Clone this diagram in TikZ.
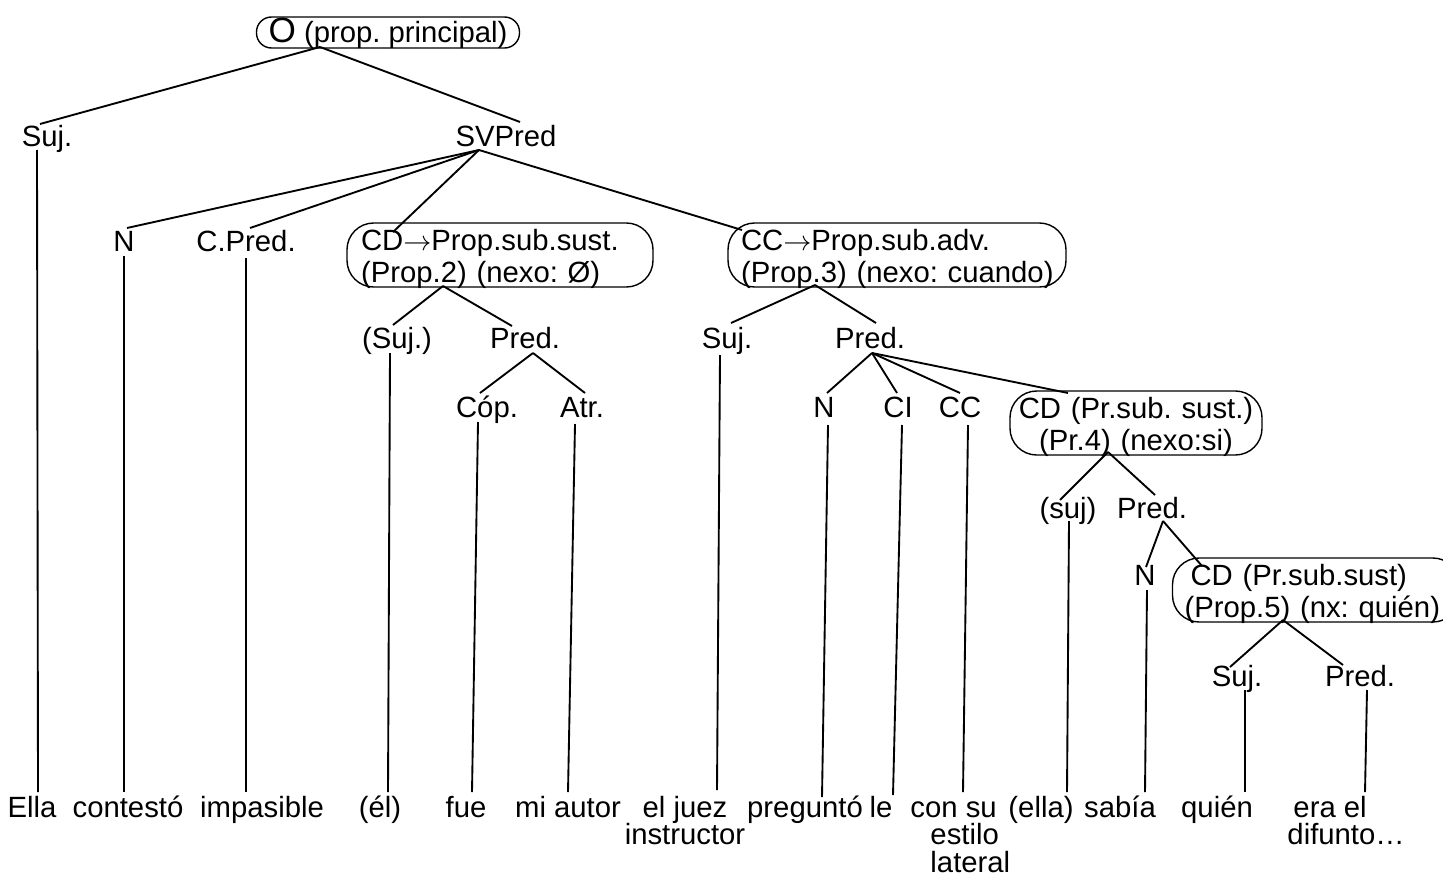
\documentclass[tikz,border=0pt]{standalone}
\usepackage{fontspec}
\setmainfont{Liberation Sans}

\begin{document}
\frenchspacing
\begin{tikzpicture}[x=0.015cm, y=-0.015cm,
  tag/.style={inner sep=0pt, anchor=base, font=\fontsize{12.5}{13.7}\selectfont},
  word/.style={tag, align=center, font=\fontsize{12.5}{11.7}\selectfont},
  pill/.style={tag, draw, line width=0.6pt, rounded corners=0.4cm, inner ysep=0pt, text height=0.405cm, text depth=0.555cm},
  branch/.style={line width=0.8pt}]

\def\wordy{817}
\path [use as bounding box] (0,0) rectangle (1443,875);

% ROOT
\node [pill, text height=0.39cm, text depth=0.075cm, inner xsep=0pt, minimum width=3.945cm, rounded corners=0.225cm] (root) at (388,43) {{\fontsize{15}{15}\selectfont O} (prop. principal)};

% LABELS
\node [tag] (sujA) at (47,146) {Suj.};
\node [tag] (svpred) at (506,146) {SVPred};
\node [tag] (nB) at (124,251) {N};
\node [tag] (cpred) at (246,251) {C.Pred.};
\node [tag] (sujB) at (397,348) {(Suj.)};
\node [tag] (predB) at (525,348) {Pred.};
\node [tag] (sujC) at (727,348) {Suj.};
\node [tag] (predC) at (870,348) {Pred.};
\node [tag] (cop) at (487,417) {Cóp.};
\node [tag] (atr) at (582,417) {Atr.};
\node [tag] (nD) at (824,417) {N};
\node [tag] (ci) at (898,417) {CI};
\node [tag] (cc) at (960,417) {CC};
\node [tag] (sujE) at (1068,518) {(suj)};
\node [tag] (predE) at (1152,518) {Pred.};
\node [tag] (nF) at (1145,585) {N};
\node [tag] (sujG) at (1237,686) {Suj.};
\node [tag] (predG) at (1360,686) {Pred.};

% BOXES
\node [pill, align=left, text width=4.17cm, inner xsep=0.21cm] (cdii) at (500,250) {\mbox{CD$\rightarrow$Prop.sub.sust.}\\\mbox{(Prop.2) (nexo: Ø)}};
\node [pill, align=left, text width=4.68cm, inner xsep=0.195cm] (ccii) at (897,250) {\mbox{CC$\rightarrow$Prop.sub.adv.}\\\mbox{(Prop.3) (nexo: cuando)}};
\node [pill, align=center, text width=3.6cm, inner xsep=0.09cm] (cdiv) at (1136,418) {\mbox{CD (Pr.sub. sust.)}\\\mbox{(Pr.4) (nexo:si)}};
\node [pill, align=left, text width=3.945cm, inner xsep=0.18cm] (cdv) at (1316,585) {\mbox{\hspace*{0.09cm}CD (Pr.sub.sust)}\\\mbox{(Prop.5) (nx: quién)}};

% WORDS
\node [word] (ella) at (32,\wordy) {Ella};
\node [word] (contesto) at (128,\wordy) {contestó};
\node [word] (impasible) at (262,\wordy) {impasible};
\node [word] (el) at (380,\wordy) {(él)};
\node [word] (fue) at (466,\wordy) {fue};
\node [word] (miautor) at (568,\wordy) {mi autor};
\node [word] (juez) at (685,844.5) {el juez\\instructor};
\node [word] (pregunto) at (805,\wordy) {preguntó};
\node [word] (le) at (881,\wordy) {le};
\node [word, align=left, anchor=base west] (consu) at (910,872) {con su\\\hspace*{0.3cm}estilo\\\hspace*{0.3cm}lateral};
\node [word] (ellaii) at (1041,\wordy) {(ella)};
\node [word] (sabia) at (1120,\wordy) {sabía};
\node [word] (quien) at (1217,\wordy) {quién};
\node [word, align=left, anchor=base west] (eradif) at (1287,844.5) {\hspace*{0.09cm}era el\\difunto…};

% BRANCHES
\draw [branch] ([shift={(-68,4)}]root.base) -- ([shift={(-7,-22)}]sujA.base);
\draw [branch] ([shift={(-68,4)}]root.base) -- ([shift={(14,-24)}]svpred.base);
\draw [branch] ([shift={(-27,4)}]svpred.base) -- ([shift={(3,-23)}]nB.base);
\draw [branch] ([shift={(-27,4)}]svpred.base) -- ([shift={(4,-23)}]cpred.base);
\draw [branch] ([shift={(-27,4)}]svpred.base) -- ([shift={(-107,-18)}]cdii.base);
\draw [branch] ([shift={(-27,4)}]svpred.base) -- ([shift={(-155,-20)}]ccii.base);
\draw [branch] ([shift={(-57,36)}]cdii.base) -- ([shift={(-4,-23)}]sujB.base);
\draw [branch] ([shift={(-57,36)}]cdii.base) -- ([shift={(-13,-22)}]predB.base);
\draw [branch] ([shift={(-82,35)}]ccii.base) -- ([shift={(4,-25)}]sujC.base);
\draw [branch] ([shift={(-82,35)}]ccii.base) -- ([shift={(6,-25)}]predC.base);
\draw [branch] ([shift={(8,5)}]predB.base) -- ([shift={(-7,-24)}]cop.base);
\draw [branch] ([shift={(8,5)}]predB.base) -- ([shift={(3,-24)}]atr.base);
\draw [branch] ([shift={(2,5)}]predC.base) -- ([shift={(3,-24)}]nD.base);
\draw [branch] ([shift={(2,5)}]predC.base) -- ([shift={(-1,-24)}]ci.base);
\draw [branch] ([shift={(2,5)}]predC.base) -- ([shift={(0,-24)}]cc.base);
\draw [branch] ([shift={(2,5)}]predC.base) -- ([shift={(-68,-25)}]cdiv.base);
\draw [branch] ([shift={(-28,34)}]cdiv.base) -- ([shift={(-8,-18)}]sujE.base);
\draw [branch] ([shift={(-28,34)}]cdiv.base) -- ([shift={(3,-23)}]predE.base);
\draw [branch] ([shift={(11,3)}]predE.base) -- ([shift={(1,-18)}]nF.base);
\draw [branch] ([shift={(11,3)}]predE.base) -- ([shift={(-114,-19)}]cdv.base);
\draw [branch] ([shift={(-33,35)}]cdv.base) -- ([shift={(-7,-19)}]sujG.base);
\draw [branch] ([shift={(-33,35)}]cdv.base) -- ([shift={(-17,-21)}]predG.base);

% STEMS
\draw [branch] ([shift={(-10,4)}]sujA.base) -- ([shift={(6,-25)}]ella.base);
\draw [branch] ([shift={(0,5)}]nB.base) -- ([shift={(-4,-25)}]contesto.base);
\draw [branch] ([shift={(0,7)}]cpred.base) -- ([shift={(-16,-25)}]impasible.base);
\draw [branch] ([shift={(-7,5)}]sujB.base) -- ([shift={(8,-25)}]el.base);
\draw [branch] ([shift={(-9,5)}]cop.base) -- ([shift={(6,-25)}]fue.base);
\draw [branch] ([shift={(-7,7)}]atr.base) -- ([shift={(0,-25)}]miautor.base);
\draw [branch] ([shift={(-7,7)}]sujC.base) -- ([shift={(32,-54.5)}]juez.base);
\draw [branch] ([shift={(4,8)}]nD.base) -- ([shift={(17,-20)}]pregunto.base);
\draw [branch] ([shift={(4,8)}]ci.base) -- ([shift={(12,-22)}]le.base);
\draw [branch] ([shift={(8,8)}]cc.base) -- ([shift={(53,-80)}]consu.base west);
\draw [branch] ([shift={(1,3)}]sujE.base) -- ([shift={(26,-25)}]ellaii.base);
\draw [branch] ([shift={(2,5)}]nF.base) -- ([shift={(25,-25)}]sabia.base);
\draw [branch] ([shift={(8,4)}]sujG.base) -- ([shift={(28,-25)}]quien.base);
\draw [branch] ([shift={(7,4)}]predG.base) -- ([shift={(78,-52.5)}]eradif.base west);

\end{tikzpicture}
\end{document}
